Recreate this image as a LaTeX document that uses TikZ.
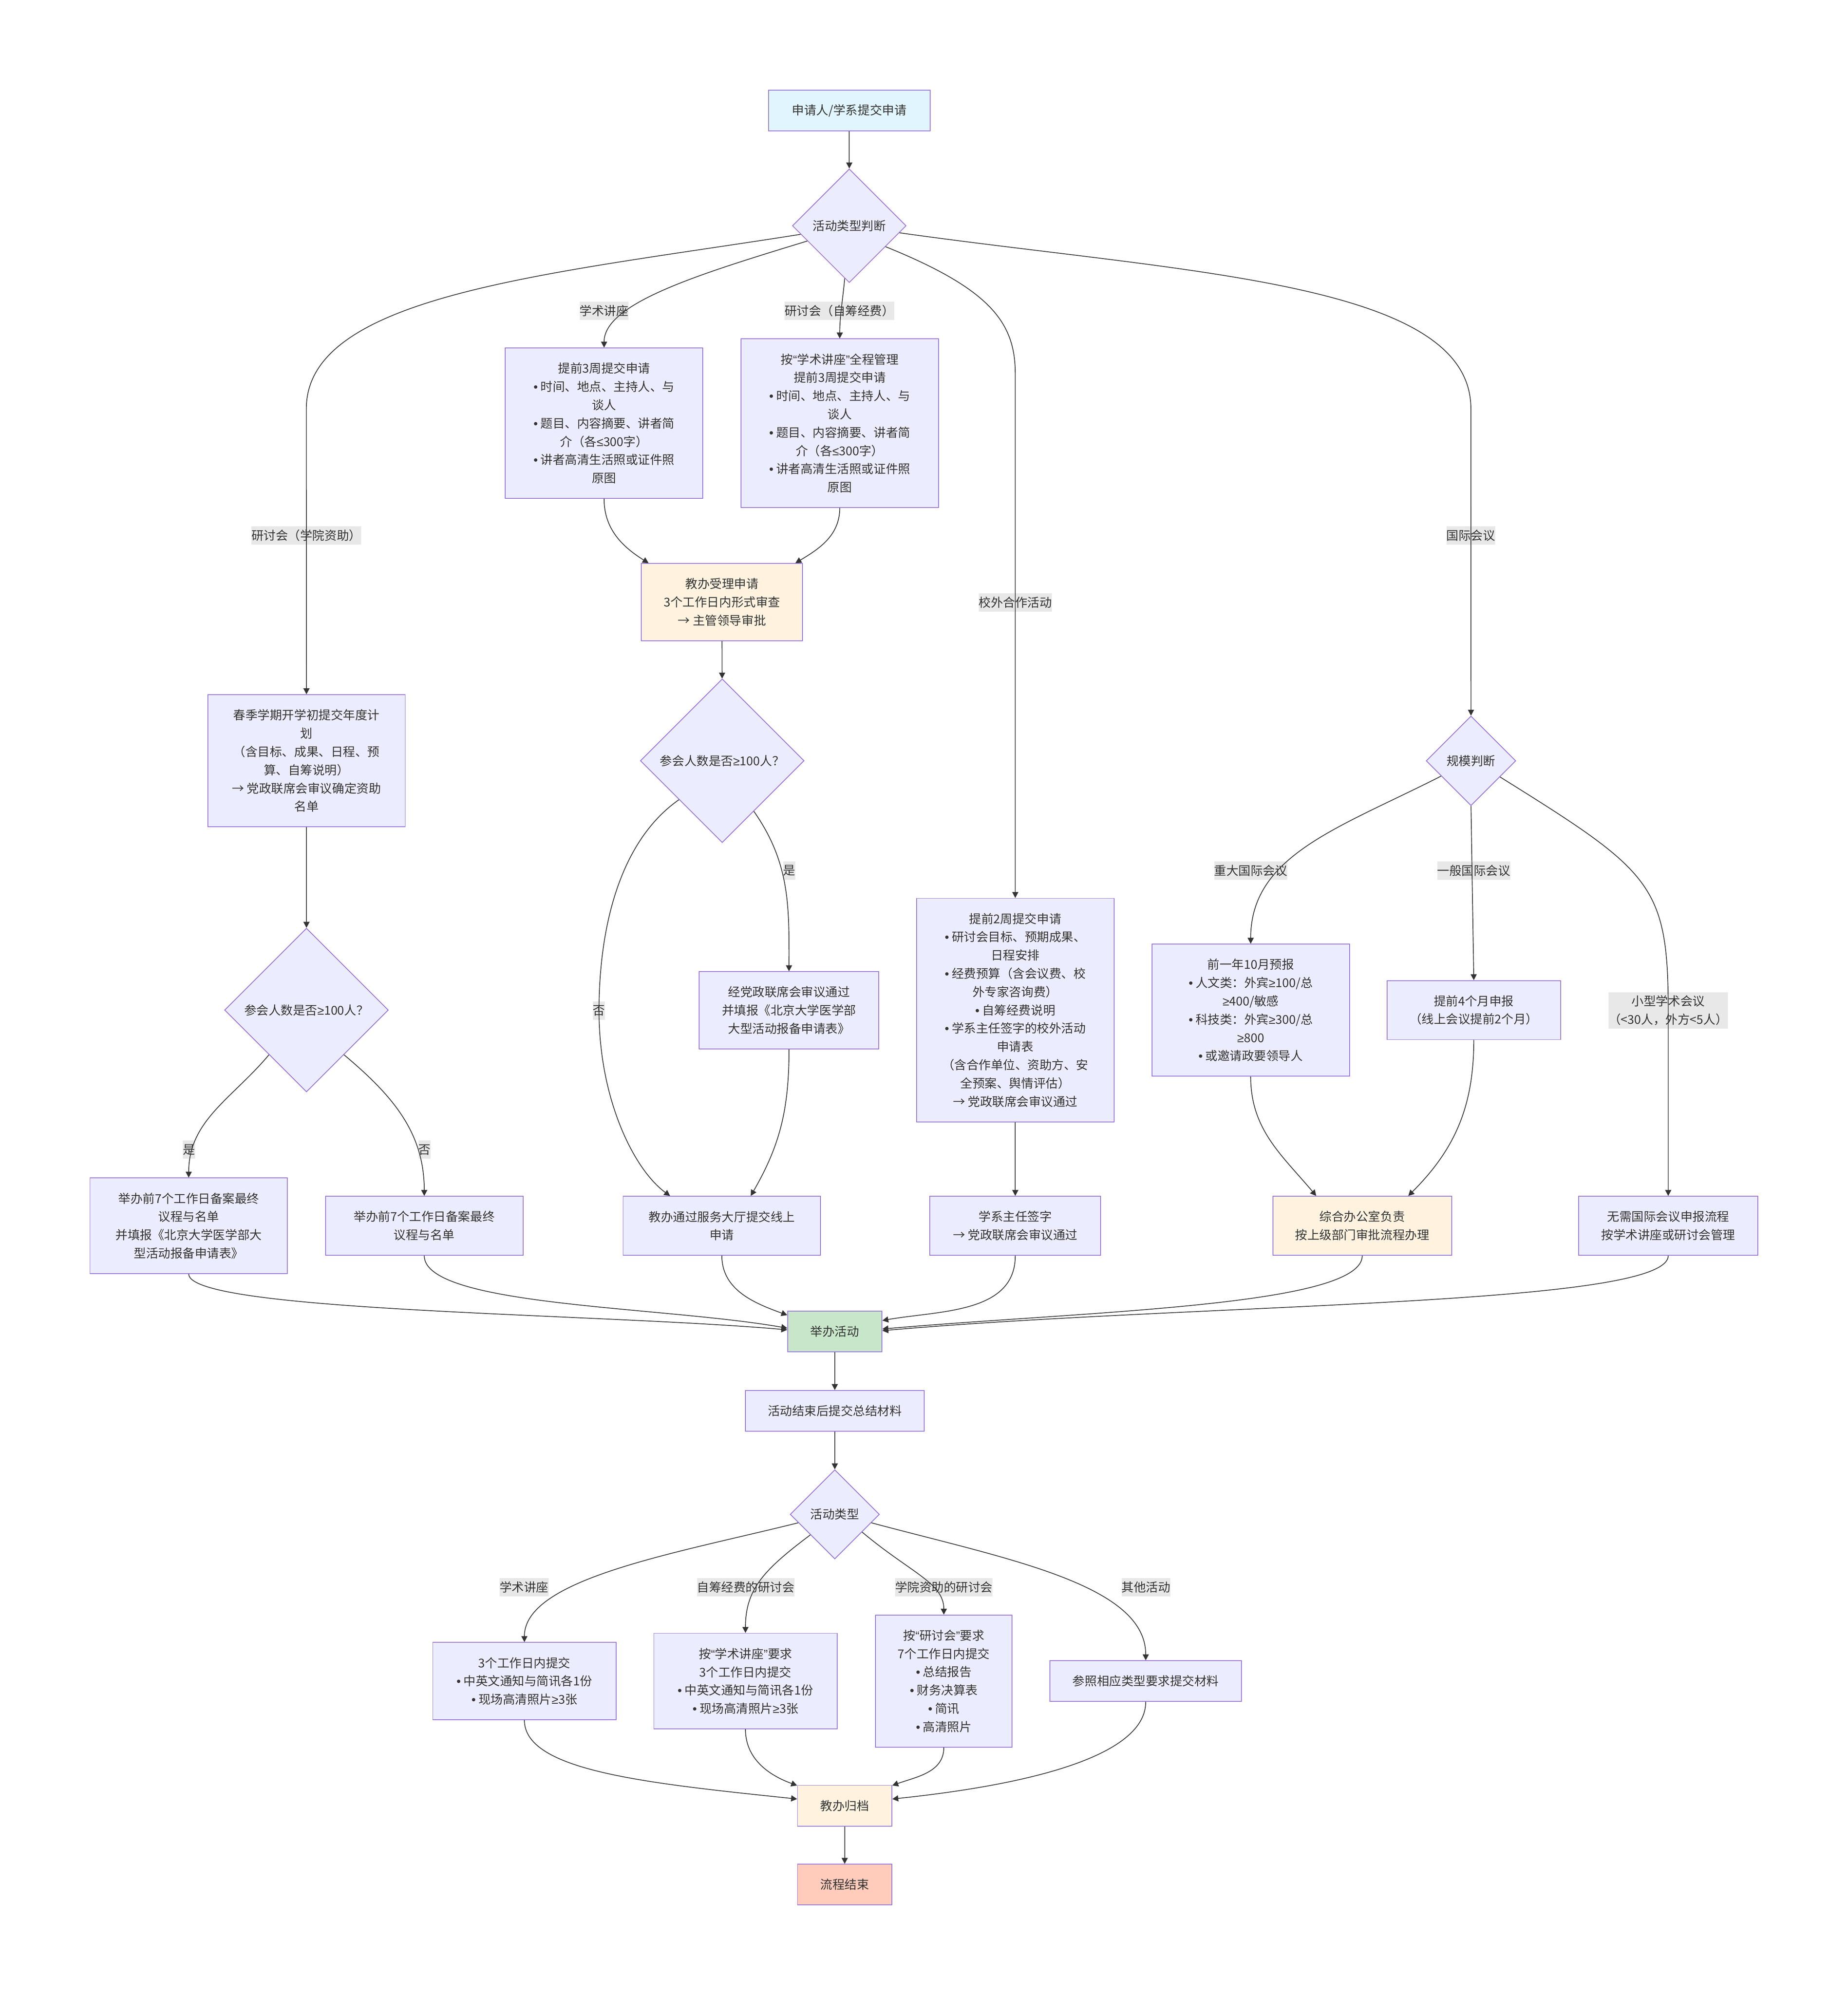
\documentclass[tikz,border=0pt]{standalone}
\usepackage{fontspec}
\setmainfont{Noto Sans CJK SC}
\newfontfamily\latinfont{Liberation Sans}
\newcommand\mb{{\latinfont •}}
\newcommand\mge{{\latinfont ≥}}
\newcommand\mle{{\latinfont ≤}}
\newcommand\mlq{{\latinfont “}}
\newcommand\mrq{{\latinfont ”}}
\usetikzlibrary{shapes.geometric,arrows.meta}
\definecolor{mmfill}{HTML}{ECECFF}
\definecolor{mmline}{HTML}{9370DB}
\definecolor{mmtext}{HTML}{333333}
\definecolor{mmstart}{HTML}{E1F5FE}
\definecolor{mmoffice}{HTML}{FFF3E0}
\definecolor{mmhold}{HTML}{C8E6C9}
\definecolor{mmend}{HTML}{FFCCBC}
\definecolor{mmlabel}{HTML}{E8E8E8}
\tikzset{
  box/.style={draw=mmline,fill=mmfill,line width=0.6pt,align=center,inner sep=1pt,text=mmtext},
  wbox/.style={box,minimum width=155.6pt},
  nlines/.style={minimum height={#1*14.4pt+17.7pt}},
  decide/.style={diamond,draw=mmline,fill=mmfill,line width=0.6pt,inner sep=0pt,text=mmtext,minimum width=#1,minimum height=#1},
  lbl/.style={fill=mmlabel,inner sep=0pt,minimum height=14.4pt,align=center,text=mmtext},
  flow/.style={draw=mmtext,line width=0.6pt,->,>={Stealth[length=4.7pt,width=4.8pt,inset=0pt]}}
}
\begin{document}
\begin{tikzpicture}[x=1pt,y=1pt,font=\fontsize{9.6pt}{14.4pt}\selectfont]
  \path[use as bounding box,fill=white] (0,0) rectangle (1455.9,-1572.2);

  \node[box,fill=mmstart,minimum width=127.3pt,nlines=1] (apply) at (669.2,-87.1) {申请人/学系提交申请};
  \node[decide=89.6pt] (acttype) at (669.2,-177.9) {活动类型判断};
  \node[wbox,nlines=7] (lecreq) at (476,-333.5) {提前3周提交申请\\\mb{} 时间、地点、主持人、与\\谈人\\\mb{} 题目、内容摘要、讲者简\\介（各\mle300字）\\\mb{} 讲者高清生活照或证件照\\原图};
  \node[wbox,nlines=8] (selfreq) at (661.7,-333.5) {按\mlq{}学术讲座\mrq{}全程管理\\提前3周提交申请\\\mb{} 时间、地点、主持人、与\\谈人\\\mb{} 题目、内容摘要、讲者简\\介（各\mle300字）\\\mb{} 讲者高清生活照或证件照\\原图};
  \node[wbox,nlines=6] (plan) at (241.5,-599.5) {春季学期开学初提交年度计\\划\\（含目标、成果、日程、预\\算、自筹说明）\\→ 党政联席会审议确定资助\\名单};
  \node[box,fill=mmoffice,minimum width=127pt,nlines=3] (accept) at (568.9,-474.5) {教办受理申请\\3个工作日内形式审查\\→ 主管领导审批};
  \node[decide=129pt] (sizeA) at (569.1,-599.5) {参会人数是否\mge100人？};
  \node[box,minimum width=141.4pt,nlines=3] (yesA) at (621.7,-796.2) {经党政联席会审议通过\\并填报《北京大学医学部\\大型活动报备申请表》};
  \node[wbox,nlines=2] (online) at (568.8,-966) {教办通过服务大厅提交线上\\申请};
  \node[decide=129pt] (sizeB) at (241.5,-796) {参会人数是否\mge100人？};
  \node[wbox,nlines=4] (yesB) at (148.7,-966) {举办前7个工作日备案最终\\议程与名单\\并填报《北京大学医学部大\\型活动报备申请表》};
  \node[wbox,nlines=2] (noB) at (334.3,-966) {举办前7个工作日备案最终\\议程与名单};
  \node[wbox,nlines=11] (coopreq) at (800,-796) {提前2周提交申请\\\mb{} 研讨会目标、预期成果、\\日程安排\\\mb{} 经费预算（含会议费、校\\外专家咨询费）\\\mb{} 自筹经费说明\\\mb{} 学系主任签字的校外活动\\申请表\\（含合作单位、资助方、安\\全预案、舆情评估）\\→ 党政联席会审议通过};
  \node[box,minimum width=134.5pt,nlines=2] (deptsign) at (800,-966) {学系主任签字\\→ 党政联席会审议通过};
  \node[decide=70.6pt] (scale) at (1159.1,-599.6) {规模判断};
  \node[wbox,nlines=6] (major) at (985.5,-796.1) {前一年10月预报\\\mb{} 人文类：外宾\mge100/总\\\mge400/敏感\\\mb{} 科技类：外宾\mge300/总\\\mge800\\\mb{} 或邀请政要领导人};
  \node[box,minimum width=136.7pt,nlines=2] (general) at (1161.3,-796) {提前4个月申报\\（线上会议提前2个月）};
  \node[box,fill=mmoffice,minimum width=140.9pt,nlines=2] (office) at (1073.4,-966) {综合办公室负责\\按上级部门审批流程办理};
  \node[box,minimum width=141.3pt,nlines=2] (small) at (1314.5,-966) {无需国际会议申报流程\\按学术讲座或研讨会管理};
  \node[box,fill=mmhold,minimum width=74.3pt,nlines=1] (hold) at (657.8,-1049.3) {举办活动};
  \node[box,minimum width=140.9pt,nlines=1] (summary) at (657.8,-1111.8) {活动结束后提交总结材料};
  \node[decide=70.3pt] (matter) at (657.8,-1193.4) {活动类型};
  \node[box,minimum width=144.4pt,nlines=3] (sumlec) at (413.2,-1324.8) {3个工作日内提交\\\mb{} 中英文通知与简讯各1份\\\mb{} 现场高清照片\mge3张};
  \node[box,minimum width=144.4pt,nlines=4] (sumself) at (587.4,-1324.8) {按\mlq{}学术讲座\mrq{}要求\\3个工作日内提交\\\mb{} 中英文通知与简讯各1份\\\mb{} 现场高清照片\mge3张};
  \node[box,minimum width=107.6pt,nlines=6] (sumcol) at (743.7,-1324.8) {按\mlq{}研讨会\mrq{}要求\\7个工作日内提交\\\mb{} 总结报告\\\mb{} 财务决算表\\\mb{} 简讯\\\mb{} 高清照片};
  \node[box,minimum width=150.9pt,nlines=1] (sumother) at (902.8,-1324.8) {参照相应类型要求提交材料};
  \node[box,fill=mmoffice,minimum width=74.4pt,nlines=1] (archive) at (665.6,-1423) {教办归档};
  \node[box,fill=mmend,minimum width=74.4pt,nlines=1] (finish) at (665.6,-1485.2) {流程结束};

  \node[lbl] (lbPlan) at (241.4,-422) {研讨会（学院资助）};
  \node[lbl] (lbLec) at (476,-244.9) {学术讲座};
  \node[lbl] (lbSelf) at (661.4,-244.9) {研讨会（自筹经费）};
  \node[lbl] (lbCoop) at (800,-474.7) {校外合作活动};
  \node[lbl] (lbIntl) at (1159,-422) {国际会议};
  \node[lbl] (lbYesA) at (622,-686) {是};
  \node[lbl] (lbNoA) at (472,-796.5) {否};
  \node[lbl] (lbYesB) at (148.9,-906) {是};
  \node[lbl] (lbNoB) at (334.5,-906) {否};
  \node[lbl] (lbMajor) at (985.5,-686) {重大国际会议};
  \node[lbl] (lbGen) at (1161.3,-686) {一般国际会议};
  \node[lbl,minimum height=28.8pt] (lbSmall) at (1314.5,-796.3) {小型学术会议\\（<30人，外方<5人）};
  \node[lbl] (lbSumLec) at (413,-1250.7) {学术讲座};
  \node[lbl] (lbSumSelf) at (587.6,-1250.7) {自筹经费的研讨会};
  \node[lbl] (lbSumCol) at (743.7,-1250.7) {学院资助的研讨会};
  \node[lbl] (lbSumOther) at (903,-1250.7) {其他活动};

  \draw[flow] (apply) -- (acttype);
  \draw[flow] (acttype.190) .. controls +(189:200) and +(90:90) .. ([yshift=100pt]lbPlan.center) -- (plan);
  \draw[flow] (acttype.200) .. controls +(197:90) and +(90:35) .. (lecreq.north);
  \draw[flow] (acttype.265) to[out=-95,in=90] (selfreq.north);
  \draw[flow] (acttype.330) .. controls +(-22:90) and +(90:40) .. ([yshift=180pt]lbCoop.center) -- (coopreq);
  \draw[flow] (acttype.-8) .. controls +(-8:230) and +(90:100) .. ([yshift=100pt]lbIntl.center) -- (scale);
  \draw[flow] (lecreq.south) to[out=-90,in=148] (accept.152);
  \draw[flow] (selfreq.south) to[out=-90,in=31] (accept.28);
  \draw[flow] (accept) -- (sizeA);
  \draw[flow] (sizeA.-58) to[out=-55,in=90] (yesA.north);
  \draw[flow] (sizeA.222) .. controls +(215:60) and +(90:60) .. (lbNoA.center) .. controls +(-90:70) and +(144:35) .. (online.150);
  \draw[flow] (yesA.south) to[out=-90,in=60] (online.46);
  \draw[flow] (plan) -- (sizeB);
  \draw[flow] (sizeB.230) to[out=-130,in=90] (yesB.north);
  \draw[flow] (sizeB.-50) to[out=-40,in=90] (noB.north);
  \draw[flow] (coopreq) -- (deptsign);
  \draw[flow] (scale.207) .. controls +(207:90) and +(90:70) .. (major.north);
  \draw[flow] (scale.south) -- (general.north);
  \draw[flow] (scale.-29) .. controls +(-32:140) and +(90:100) .. (lbSmall.center) -- (small);
  \draw[flow] (major.south) to[out=-90,in=130] (office.147);
  \draw[flow] (general.south) to[out=-90,in=45] (office.33);

  \draw[flow] (yesB.south) .. controls +(-90:30) and +(175:150) .. (hold.178);
  \draw[flow] (noB.south) .. controls +(-90:40) and +(170:100) .. (hold.176);
  \draw[flow] (online.south) to[out=-90,in=160] (hold.161);
  \draw[flow] (deptsign.south) to[out=-90,in=10] (hold.13);
  \draw[flow] (office.south) .. controls +(-90:40) and +(5:160) .. (hold.3);
  \draw[flow] (small.south) .. controls +(-90:40) and +(5:250) .. (hold.1);
  \draw[flow] (hold) -- (summary);
  \draw[flow] (summary) -- (matter);

  \draw[flow] (matter.193) .. controls +(194:100) and +(90:50) .. (sumlec.north);
  \draw[flow] (matter.220) .. controls +(217:45) and +(90:35) .. (sumself.north);
  \draw[flow] (matter.-33) .. controls +(-40:50) and +(90:25) .. (sumcol.north);
  \draw[flow] (matter.-13) .. controls +(-15:110) and +(90:60) .. (sumother.north);
  \draw[flow] (sumlec.south) .. controls +(-90:40) and +(174:120) .. (archive.172);
  \draw[flow] (sumself.south) to[out=-90,in=160] (archive.157);
  \draw[flow] (sumcol.south) to[out=-90,in=20] (archive.23);
  \draw[flow] (sumother.south) .. controls +(-90:40) and +(6:120) .. (archive.8);
  \draw[flow] (archive) -- (finish);
\end{tikzpicture}
\end{document}
